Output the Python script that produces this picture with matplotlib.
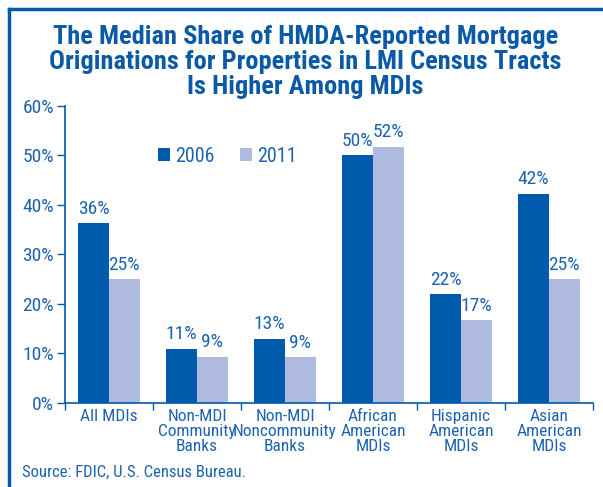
import numpy as np
import matplotlib
matplotlib.use("Agg")
import matplotlib.pyplot as plt
from matplotlib import font_manager
from matplotlib.lines import Line2D

categorias = ["All MDIs", "Non-MDI\nCommunity\nBanks", "Non-MDI\nNoncommunity\nBanks",
              "African\nAmerican\nMDIs", "Hispanic\nAmerican\nMDIs", "Asian\nAmerican\nMDIs"]
valores_2006 = [36.3, 11.0, 13.0, 50.0, 22.0, 42.3]
valores_2011 = [25.0, 9.3, 9.2, 51.7, 16.7, 25.0]
etiquetas_2006 = ["36%", "11%", "13%", "50%", "22%", "42%"]
etiquetas_2011 = ["25%", "9%", "9%", "52%", "17%", "25%"]

azul = "#005BAC"
azul_claro = "#AEBBDE"
texto = "#1E63AE"

# buscar una fuente angosta instalada
familia, estiramiento = "DejaVu Sans", "normal"
candidatas = []
for f in font_manager.fontManager.ttflist:
    angosta = ("Narrow" in f.name or "Condensed" in f.name
               or f.stretch in ("condensed", "semi-condensed", 300, 400))
    if angosta:
        candidatas.append((f.name, f.stretch))
orden = ["Liberation Sans Narrow", "Roboto Condensed", "Noto Sans Condensed",
         "Open Sans Condensed", "Noto Sans", "DejaVu Sans", "Roboto", "Open Sans"]
for nombre in orden:
    hallada = [c for c in candidatas if c[0] == nombre]
    if hallada:
        familia, estiramiento = hallada[0]
        break
else:
    if candidatas:
        familia, estiramiento = candidatas[0]

plt.rcParams["font.family"] = [familia, "DejaVu Sans"]
plt.rcParams["font.stretch"] = estiramiento

fig = plt.figure(figsize=(6.03, 4.87), dpi=100)
ax = fig.add_axes([0.1078, 0.1725, 0.8756, 0.610])

x = np.arange(len(categorias))
ancho = 0.35
b1 = ax.bar(x - ancho / 2, valores_2006, ancho, color=azul, label="2006")
b2 = ax.bar(x + ancho / 2, valores_2011, ancho, color=azul_claro, label="2011")

for barra, et in zip(b1, etiquetas_2006):
    ax.annotate(et, (barra.get_x() + barra.get_width() / 2, barra.get_height()),
                xytext=(0, 4), textcoords="offset points", ha="center", va="bottom",
                color=texto, fontsize=14)
for barra, et in zip(b2, etiquetas_2011):
    ax.annotate(et, (barra.get_x() + barra.get_width() / 2, barra.get_height()),
                xytext=(0, 4), textcoords="offset points", ha="center", va="bottom",
                color=texto, fontsize=14)

ax.set_xlim(-0.5, 5.5)
ax.set_ylim(0, 60)
ax.set_yticks(range(0, 61, 10))
ax.set_yticklabels([f"{v}%" for v in range(0, 61, 10)])
ax.set_xticks(x)
ax.set_xticklabels(categorias, linespacing=1.02)
ax.set_xticks(np.arange(-0.5, 6, 1), minor=True)
ax.tick_params(axis="x", which="major", length=0, pad=4, colors=texto, labelsize=12.5)
ax.tick_params(axis="x", which="minor", length=5, width=1, color=azul, direction="out")
ax.tick_params(axis="y", length=6, width=1, pad=2, color=azul, labelcolor=texto, labelsize=14)

for lado in ["top", "right"]:
    ax.spines[lado].set_visible(False)
for lado in ["left", "bottom"]:
    ax.spines[lado].set_color(azul)
    ax.spines[lado].set_linewidth(1.2)

ley = ax.legend(loc="center left", bbox_to_anchor=(0.16, 0.83), ncol=2, frameon=False,
                handlelength=0.6, handleheight=0.6, handletextpad=0.25,
                columnspacing=1.3, fontsize=14.5, borderaxespad=0)
for t in ley.get_texts():
    t.set_color(texto)

fig.text(0.507, 0.873, "The Median Share of HMDA-Reported Mortgage\n"
         "Originations for Properties in LMI Census Tracts\nIs Higher Among MDIs",
         ha="center", va="center", fontsize=19, fontweight="bold", color="#0A5AA8",
         linespacing=1.06)
fig.text(0.036, 0.021, "Source: FDIC, U.S. Census Bureau.", fontsize=12, color=texto)

# marco azul arriba e izquierda
fig.add_artist(Line2D([0.015, 1.0], [0.981, 0.981], color=azul, lw=2.5))
fig.add_artist(Line2D([0.015, 0.015], [0.0, 0.981], color=azul, lw=2.5))

fig.savefig("out.png", dpi=100)
